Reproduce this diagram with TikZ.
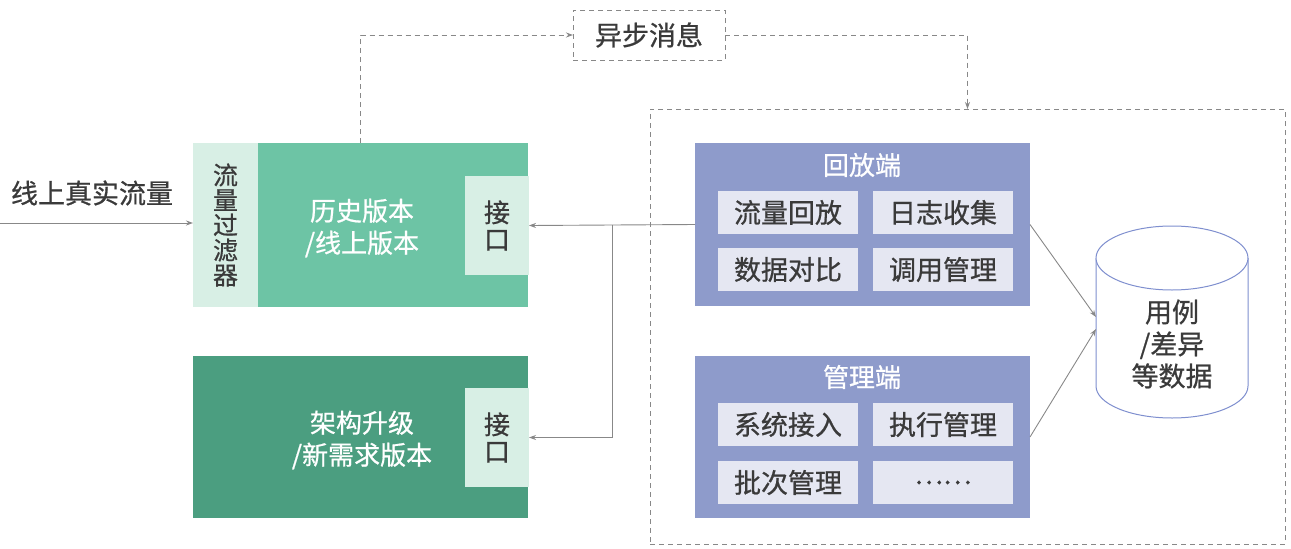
\documentclass[tikz,border=0pt]{standalone}
\usepackage{fontspec}
\setmainfont{Noto Sans CJK SC}[FakeBold=0.7]
\usetikzlibrary{arrows.meta,calc}
\definecolor{gone}{HTML}{6DC4A5}
\definecolor{gtwo}{HTML}{4B9E80}
\definecolor{glight}{HTML}{D8EFE5}
\definecolor{bmain}{HTML}{8E9BCB}
\definecolor{blight}{HTML}{E5E7F2}
\definecolor{cylb}{HTML}{7F8FCF}
\definecolor{txt}{HTML}{3A3A3A}
\definecolor{lnc}{HTML}{888888}
\newcommand\myfs[2]{\fontsize{#1}{#2}\selectfont}
\begin{document}
\begin{tikzpicture}[x=1pt,y=-1pt,
  base/.style={draw=none,inner sep=0pt,outer sep=0pt,anchor=north west,align=center},
  bigbox/.style={base,minimum width=335pt},
  subbox/.style={base,fill=blight,minimum width=140pt,minimum height=43pt,text=txt,font=\myfs{27}{30}},
  ifbox/.style={base,fill=glight,minimum width=64pt,minimum height=99pt,text=txt,font=\myfs{26}{27}},
  wlbl/.style={text=white,align=center,font=\myfs{26}{32}},
  conn/.style={draw=lnc,line width=0.9pt,-{Stealth[length=7pt,width=5pt]}},
  dconn/.style={draw=lnc,line width=0.9pt,dash pattern=on 5pt off 4pt,-{Stealth[length=7pt,width=5pt]}},
  dbox/.style={base,draw=lnc,line width=0.9pt,dash pattern=on 5pt off 4pt}
]
\useasboundingbox (0,0) rectangle (1291,549);
\fill[white] (0,0) rectangle (1291,549);

% left side
\node[text=txt,font=\myfs{27}{30}] (src) at (92,193) {线上真实流量};
\node[bigbox,fill=gone,minimum height=164pt] (hist) at (193,143) {};
\node[base,fill=glight,minimum width=65pt,minimum height=164pt,text=txt,font=\myfs{25}{25}] (filt) at (193,143) {流\\量\\过\\滤\\器};
\node[ifbox] (ifa) at (465,176) {接\\口};
\node[wlbl] (histtxt) at (362,228) {历史版本\\/线上版本};

\node[bigbox,fill=gtwo,minimum height=162pt] (newv) at (193,356) {};
\node[ifbox] (ifb) at (465,388) {接\\口};
\node[wlbl] (newtxt) at (362,440) {架构升级\\/新需求版本};

\coordinate (inl) at (0,223);
\draw[conn] (inl) -- (filt.west |- inl);

% async message
\node[dbox,minimum width=152pt,minimum height=50pt,text=txt,font=\myfs{27}{30}] (async) at (573,10) {异步消息};
\node[dbox,minimum width=635pt,minimum height=435pt] (cont) at (650,109) {};
\draw[dconn] (hist.north) |- (async.west);
\draw[dconn] (async.east) -| (cont.north);

% replay side
\node[bigbox,fill=bmain,minimum height=163pt] (replay) at (695,143) {};
\node[wlbl] (rtitle) at (862,165) {回放端};
\node[subbox] (ra) at (718,191) {流量回放};
\node[subbox] (rb) at (873,191) {日志收集};
\node[subbox] (rc) at (718,248) {数据对比};
\node[subbox] (rd) at (873,248) {调用管理};

\node[bigbox,fill=bmain,minimum height=162pt] (mgr) at (695,356) {};
\node[wlbl] (mtitle) at (862,377) {管理端};
\node[subbox] (ma) at (718,403) {系统接入};
\node[subbox] (mb) at (873,403) {执行管理};
\node[subbox] (mc) at (718,461) {批次管理};
\node[subbox] (md) at (873,461) {……};

% database cylinder
\node[base,minimum width=152pt,minimum height=192pt] (db) at (1096,226) {};
\draw[cylb,line width=1pt,fill=white] (1096,258) -- (1096,386) arc[start angle=180,end angle=0,x radius=76,y radius=32] -- (1248,258);
\draw[cylb,line width=1pt,fill=white] (1172,258) ellipse[x radius=76,y radius=32];
\node[text=txt,align=center,font=\myfs{27}{32}] (dbtxt) at (1172,344) {用例\\/差异\\等数据};

% connectors
\coordinate (split) at (612,224.5);
\draw[conn] (replay.west) -- (ifa.east);
\draw[conn] (split) |- (ifb.east);
\draw[conn] (replay.east) -- ([yshift=5pt]db.west);
\draw[conn] (mgr.east) -- ([yshift=-7pt]db.west);
\end{tikzpicture}
\end{document}
